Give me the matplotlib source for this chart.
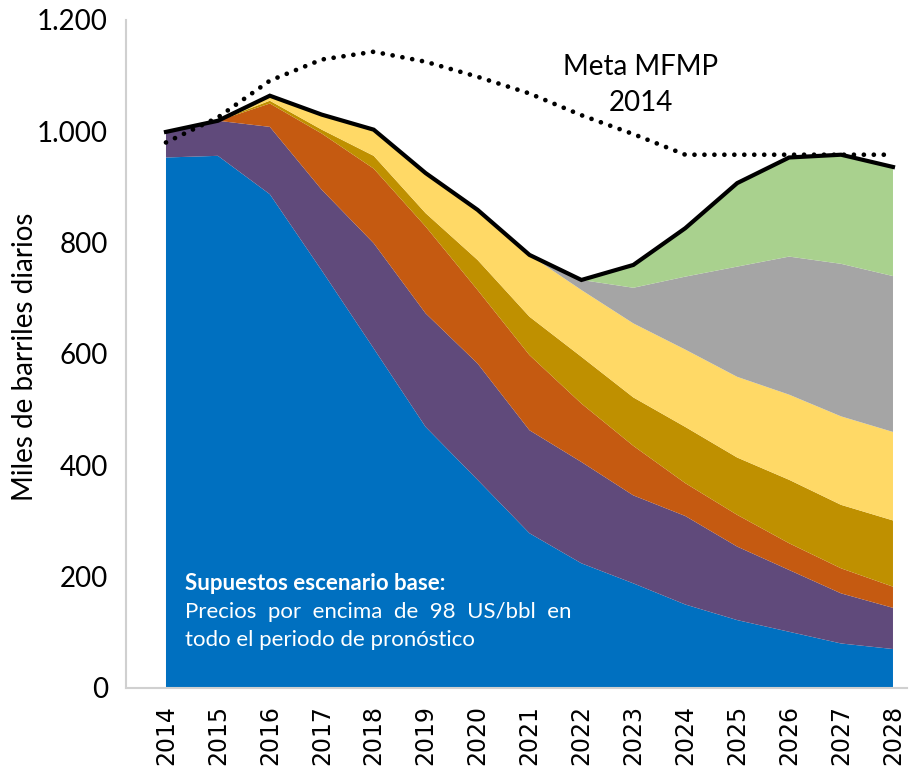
import numpy as np
import matplotlib
matplotlib.use("Agg")
import matplotlib.pyplot as plt

# years on the x axis
years = np.arange(2014, 2029)

# stacked production by component (miles de barriles diarios), bottom to top
blue = [953, 956, 887, 750, 610, 469, 374, 278, 224, 188, 150, 122, 101, 80, 70]
purple = [46, 63, 121, 145, 189, 204, 209, 185, 182, 158, 159, 132, 111, 90, 74]
orange = [0, 0, 42, 101, 134, 156, 132, 135, 105, 89, 59, 57, 48, 45, 38]
gold = [0, 0, 5, 7, 23, 24, 54, 69, 84, 87, 101, 103, 114, 114, 119]
yellow = [0, 0, 9, 27, 47, 72, 90, 111, 120, 133, 139, 145, 153, 159, 159]
grey = [0, 0, 0, 0, 0, 0, 0, 0, 18, 64, 131, 198, 248, 274, 280]
green = [0, 0, 0, 0, 0, 0, 0, 0, 0, 41, 87, 150, 178, 196, 196]

# target line "Meta MFMP 2014"
meta = [980, 1025, 1091, 1129, 1143, 1125, 1098, 1068, 1029, 995, 958, 958, 958, 958, 958]

y_ticks = [0, 200, 400, 600, 800, 1000, 1200]
y_labels = ["0", "200", "400", "600", "800", "1.000", "1.200"]

colors = ["#0070C0", "#604A7B", "#C55A11", "#BF9000", "#FFD966", "#A5A5A5", "#A9D18E"]

fig = plt.figure(figsize=(9.1, 7.75), dpi=100)
ax = fig.add_axes([126 / 910, 1 - 688 / 775, (907 - 126) / 910, 668 / 775])

layers = [blue, purple, orange, gold, yellow, grey, green]
ax.stackplot(years, *layers, colors=colors, linewidth=0)

total = np.sum(layers, axis=0)
ax.plot(years, total, color="black", lw=3, solid_joinstyle="miter")
ax.plot(years, meta, color="black", lw=3.4, linestyle=(0, (0.01, 2.1)),
        dash_capstyle="round")

ax.set_xlim(2013.23, 2028.27)
ax.set_ylim(0, 1200)
ax.set_yticks(y_ticks)
ax.set_yticklabels(y_labels, fontfamily="Lato", fontsize=20)
ax.set_xticks(years)
ax.set_xticklabels([str(y) for y in years], rotation=90, fontsize=17)
ax.tick_params(axis="y", length=0, pad=13)
ax.tick_params(axis="x", length=0, pad=12)

for s in ["top", "right"]:
    ax.spines[s].set_visible(False)
for s in ["left", "bottom"]:
    ax.spines[s].set_color("#D0D0D0")
    ax.spines[s].set_linewidth(1.5)

fig.text(25 / 910, 1 - 357 / 775, "Miles de barriles diarios", rotation=90,
         ha="center", va="center", fontfamily="Lato", fontsize=20)

ax.text(0.0755, 0.157, "Supuestos escenario base:", transform=ax.transAxes,
        color="white", fontweight="bold", fontfamily="Lato", fontsize=16,
        va="center", ha="left")
ax.text(0.0755, 0.114, "Precios  por  encima  de  98  US/bbl  en", transform=ax.transAxes,
        color="white", fontfamily="Lato", fontsize=16, va="center", ha="left")
ax.text(0.0755, 0.072, "todo el periodo de pronóstico", transform=ax.transAxes,
        color="white", fontfamily="Lato", fontsize=16, va="center", ha="left")

ax.text(0.659, 0.903, "Meta MFMP\n2014", transform=ax.transAxes, ha="center",
        va="center", fontfamily="Lato", fontsize=20, linespacing=1.45)

fig.savefig("out.png", dpi=100)
